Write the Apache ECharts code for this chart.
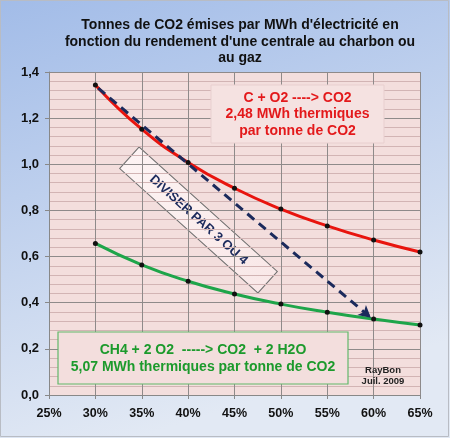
<!DOCTYPE html>
<html><head><meta charset="utf-8">
<script src="https://cdn.jsdelivr.net/npm/echarts@6/dist/echarts.min.js"></script>
<style>html,body{margin:0;padding:0;}#c{width:450px;height:438px;}</style>
</head><body><div id="c"></div>
<script>
const rendement = [30, 35, 40, 45, 50, 55, 60, 65];
const charbon = [1.344, 1.152, 1.008, 0.896, 0.806, 0.733, 0.672, 0.620];
const gaz = [0.657, 0.564, 0.493, 0.438, 0.394, 0.359, 0.329, 0.303];
const fleche = [[30.3, 1.33], [59.7, 0.335]];
const xTicks = [25, 30, 35, 40, 45, 50, 55, 60, 65];
const yTicks = [0, 0.2, 0.4, 0.6, 0.8, 1.0, 1.2, 1.4];

const chart = echarts.init(document.getElementById('c'), null, {renderer: 'canvas'});
const FONT = 'Liberation Sans, Arial, sans-serif';
chart.setOption({
  animation: false,
  backgroundColor: {type: 'linear', x: 0, y: 0, x2: 0.3, y2: 1, colorStops: [
    {offset: 0, color: '#a2bce8'}, {offset: 1, color: '#e2e9f4'}]},
  title: {
    text: "Tonnes de CO2 émises par MWh d'électricité en\nfonction du rendement d'une centrale au charbon ou\nau gaz",
    left: 235, top: 12, textAlign: 'center',
    textStyle: {fontFamily: FONT, fontSize: 14, fontWeight: 'bold', color: '#111', lineHeight: 16.5}
  },
  grid: {left: 49, right: 30, top: 72, bottom: 43, show: true, backgroundColor: '#f3dedd', borderWidth: 0},
  xAxis: {
    type: 'value', min: 25, max: 65, interval: 5,
    axisLine: {show: true, lineStyle: {color: '#888', width: 1}},
    axisTick: {show: true, length: 4, lineStyle: {color: '#888'}},
    axisLabel: {formatter: v => v + '%', margin: 12, fontFamily: FONT, fontSize: 12.5, fontWeight: 'bold', color: '#111'},
    splitLine: {show: true, lineStyle: {color: '#8e8a8a', width: 1}}
  },
  yAxis: {
    type: 'value', min: 0, max: 1.4, interval: 0.2,
    axisLine: {show: true, lineStyle: {color: '#888', width: 1}},
    axisTick: {show: true, length: 4, lineStyle: {color: '#888'}},
    axisLabel: {formatter: v => v.toFixed(1).replace('.', ','), margin: 10, fontFamily: FONT, fontSize: 13, fontWeight: 'bold', color: '#111'},
    splitLine: {show: true, lineStyle: {color: '#8e8a8a', width: 1}},
    minorTick: {show: false, splitNumber: 5},
    minorSplitLine: {show: true, lineStyle: {color: '#d2b4b4', width: 1}}
  },
  series: [
    {
      type: 'line', smooth: true, data: rendement.map((x, i) => [x, charbon[i]]),
      symbol: 'circle', symbolSize: 5, itemStyle: {color: '#111'},
      lineStyle: {color: '#e8140e', width: 3}, z: 3
    },
    {
      type: 'line', smooth: true, data: rendement.map((x, i) => [x, gaz[i]]),
      symbol: 'circle', symbolSize: 5, itemStyle: {color: '#111'},
      lineStyle: {color: '#1ea54a', width: 3}, z: 3
    },
    {
      type: 'line', data: [], z: 4,
      markLine: {
        silent: true, symbol: ['none', 'arrow'], symbolSize: [10, 12],
        label: {show: false},
        lineStyle: {color: '#1b2a5c', width: 3, type: [9, 6]},
        data: [[{coord: fleche[0]}, {coord: fleche[1]}]]
      }
    }
  ],
  graphic: [
    {type: 'rect', shape: {x: 211, y: 85, width: 173, height: 58}, style: {fill: '#f5e2e1', stroke: '#e8cfcf', lineWidth: 1}, z: 10},
    {type: 'text', x: 297.5, y: 114.5, style: {text: 'C + O2 ----> CO2\n2,48 MWh thermiques\npar tonne de CO2', fill: '#e3191b', font: 'bold 14px ' + FONT, align: 'center', verticalAlign: 'middle', lineHeight: 16.5}, z: 11},
    {type: 'rect', shape: {x: 58, y: 332, width: 290, height: 52}, style: {fill: '#f3dedd', stroke: '#62b86a', lineWidth: 1.2}, z: 10},
    {type: 'text', x: 203, y: 358.5, style: {text: 'CH4 + 2 O2  -----> CO2  + 2 H2O\n5,07 MWh thermiques par tonne de CO2', fill: '#1c9a2c', font: 'bold 14px ' + FONT, align: 'center', verticalAlign: 'middle', lineHeight: 17}, z: 11},
    {type: 'text', x: 383, y: 375.5, style: {text: 'RayBon\nJuil. 2009', fill: '#222', font: 'bold 9.5px ' + FONT, align: 'center', verticalAlign: 'middle', lineHeight: 11}, z: 11},
    {
      type: 'group', x: 198.5, y: 220, rotation: -42 * Math.PI / 180, z: 12,
      children: [
        {type: 'rect', shape: {x: -93, y: -14.5, width: 186, height: 29},
         style: {fill: {type: 'linear', x: 0, y: 0, x2: 1, y2: 0, colorStops: [{offset: 0, color: '#fdf3f3'}, {offset: 1, color: '#f9e8e8'}]}, stroke: '#6e6e6e', lineWidth: 1}},
        {type: 'text', x: 0, y: 0, style: {text: 'DIVISER PAR 3 OU 4', fill: '#1b2a5c', font: 'bold 13px ' + FONT, align: 'center', verticalAlign: 'middle'}}
      ]
    },
    {type: 'rect', shape: {x: 0.5, y: 0.5, width: 448, height: 436}, style: {fill: 'none', stroke: '#b8bcc4', lineWidth: 1}, z: 20, silent: true}
  ]
});
</script></body></html>
